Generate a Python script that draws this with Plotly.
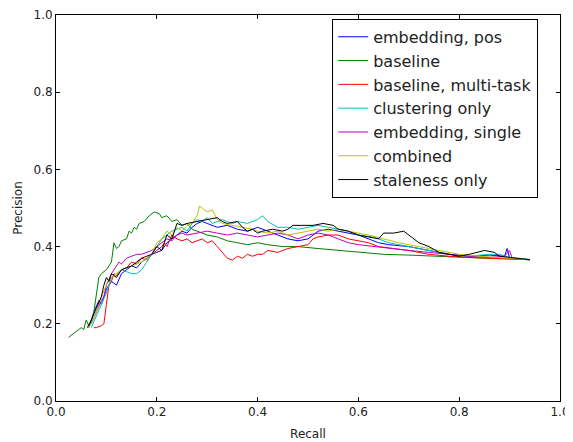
import plotly.graph_objects as go

names = ["embedding, pos", "baseline", "baseline, multi-task", "clustering only",
         "embedding, single", "combined", "staleness only"]
colors = ["#0000ff", "#008000", "#ff0000", "#00bfbf", "#bf00bf", "#bfbf00", "#000000"]

emb_pos_r = [0.065,0.075,0.085,0.09,0.10,0.11,0.12,0.13,0.14,0.15,0.16,0.17,0.18,0.19,0.20,0.21,0.22,0.23,0.24,0.25,0.26,0.27,0.28,0.29,0.30,0.31,0.32,0.34,0.36,0.38,0.40,0.42,0.44,0.46,0.48,0.50,0.52,0.54,0.56,0.58,0.60,0.62,0.64,0.66,0.70,0.74,0.78,0.82,0.86,0.89,0.895,0.90,0.94]
emb_pos_p = [0.19,0.23,0.26,0.25,0.29,0.31,0.30,0.33,0.34,0.35,0.345,0.36,0.37,0.38,0.385,0.39,0.41,0.42,0.43,0.44,0.435,0.45,0.46,0.465,0.46,0.455,0.45,0.455,0.445,0.44,0.45,0.44,0.43,0.42,0.415,0.42,0.44,0.445,0.44,0.435,0.43,0.42,0.41,0.405,0.40,0.39,0.38,0.375,0.378,0.375,0.395,0.37,0.366]

base_r = [0.025,0.035,0.045,0.05,0.055,0.06,0.065,0.07,0.075,0.08,0.085,0.09,0.10,0.105,0.11,0.115,0.12,0.125,0.13,0.14,0.145,0.15,0.155,0.16,0.165,0.175,0.185,0.195,0.205,0.21,0.22,0.23,0.24,0.25,0.26,0.27,0.28,0.29,0.30,0.32,0.34,0.36,0.38,0.40,0.42,0.45,0.48,0.52,0.56,0.60,0.65,0.70,0.75,0.80,0.85,0.90,0.94]
base_p = [0.165,0.175,0.185,0.19,0.185,0.21,0.195,0.205,0.23,0.28,0.32,0.33,0.34,0.35,0.36,0.41,0.395,0.40,0.415,0.42,0.44,0.435,0.45,0.445,0.46,0.465,0.48,0.49,0.485,0.475,0.48,0.465,0.47,0.455,0.46,0.445,0.44,0.435,0.43,0.425,0.415,0.41,0.405,0.41,0.405,0.40,0.40,0.395,0.39,0.385,0.38,0.378,0.375,0.372,0.37,0.368,0.366]

multi_r = [0.075,0.08,0.09,0.095,0.10,0.105,0.11,0.115,0.12,0.13,0.14,0.15,0.16,0.17,0.18,0.19,0.20,0.21,0.215,0.22,0.23,0.24,0.25,0.26,0.27,0.28,0.29,0.30,0.31,0.32,0.33,0.34,0.35,0.36,0.37,0.38,0.39,0.40,0.41,0.42,0.44,0.46,0.48,0.50,0.51,0.52,0.54,0.56,0.58,0.60,0.62,0.64,0.67,0.70,0.74,0.78,0.82,0.86,0.90,0.94]
multi_p = [0.19,0.19,0.195,0.20,0.25,0.30,0.31,0.33,0.325,0.34,0.345,0.36,0.355,0.37,0.365,0.38,0.39,0.40,0.41,0.40,0.43,0.42,0.415,0.42,0.41,0.415,0.42,0.41,0.415,0.40,0.385,0.37,0.365,0.375,0.37,0.38,0.375,0.38,0.38,0.39,0.385,0.395,0.40,0.405,0.42,0.425,0.43,0.43,0.42,0.415,0.41,0.40,0.395,0.39,0.38,0.375,0.372,0.37,0.368,0.366]

clust_r = [0.07,0.08,0.09,0.10,0.105,0.11,0.12,0.13,0.14,0.15,0.16,0.17,0.18,0.19,0.20,0.21,0.22,0.23,0.24,0.25,0.26,0.27,0.28,0.29,0.30,0.31,0.32,0.33,0.34,0.35,0.36,0.38,0.40,0.41,0.42,0.44,0.46,0.48,0.50,0.52,0.54,0.56,0.58,0.60,0.63,0.66,0.70,0.74,0.78,0.82,0.86,0.88,0.90,0.94]
clust_p = [0.19,0.22,0.25,0.28,0.30,0.32,0.33,0.34,0.335,0.33,0.33,0.34,0.36,0.38,0.40,0.42,0.43,0.44,0.445,0.45,0.44,0.46,0.47,0.465,0.475,0.46,0.465,0.47,0.465,0.46,0.465,0.46,0.47,0.48,0.465,0.45,0.45,0.445,0.45,0.455,0.45,0.445,0.44,0.43,0.425,0.41,0.40,0.39,0.38,0.375,0.38,0.38,0.372,0.367]

single_r = [0.07,0.08,0.09,0.095,0.10,0.11,0.12,0.125,0.13,0.14,0.15,0.16,0.17,0.18,0.19,0.20,0.21,0.22,0.23,0.24,0.25,0.26,0.28,0.30,0.32,0.34,0.36,0.38,0.40,0.42,0.44,0.46,0.48,0.50,0.52,0.54,0.56,0.58,0.60,0.63,0.66,0.70,0.74,0.78,0.82,0.86,0.89,0.90,0.905,0.94]
single_p = [0.20,0.23,0.26,0.27,0.30,0.33,0.35,0.36,0.355,0.37,0.375,0.38,0.38,0.385,0.39,0.40,0.41,0.42,0.415,0.43,0.435,0.43,0.435,0.44,0.435,0.43,0.435,0.43,0.425,0.43,0.435,0.43,0.42,0.43,0.435,0.43,0.42,0.41,0.405,0.40,0.395,0.39,0.385,0.38,0.375,0.372,0.375,0.39,0.37,0.366]

comb_r = [0.065,0.07,0.08,0.09,0.10,0.11,0.12,0.13,0.14,0.15,0.16,0.17,0.18,0.19,0.20,0.21,0.22,0.23,0.24,0.25,0.26,0.27,0.28,0.285,0.29,0.30,0.31,0.32,0.33,0.35,0.37,0.39,0.40,0.42,0.44,0.46,0.48,0.50,0.52,0.54,0.56,0.58,0.60,0.62,0.65,0.68,0.72,0.76,0.80,0.84,0.88,0.91,0.94]
comb_p = [0.19,0.20,0.23,0.27,0.30,0.32,0.33,0.34,0.345,0.35,0.355,0.36,0.37,0.38,0.41,0.42,0.44,0.43,0.45,0.44,0.455,0.46,0.48,0.505,0.50,0.49,0.495,0.47,0.46,0.455,0.45,0.445,0.44,0.435,0.44,0.43,0.435,0.44,0.445,0.44,0.445,0.44,0.435,0.43,0.42,0.41,0.40,0.39,0.38,0.375,0.372,0.37,0.366]

stale_r = [0.062,0.07,0.08,0.09,0.095,0.10,0.105,0.11,0.12,0.13,0.14,0.15,0.16,0.17,0.18,0.19,0.20,0.21,0.215,0.22,0.23,0.24,0.25,0.26,0.28,0.30,0.32,0.33,0.34,0.36,0.37,0.38,0.39,0.40,0.41,0.43,0.45,0.46,0.47,0.49,0.51,0.53,0.55,0.56,0.58,0.60,0.62,0.64,0.65,0.67,0.69,0.70,0.72,0.74,0.76,0.78,0.80,0.82,0.85,0.87,0.88,0.90,0.94]
stale_p = [0.19,0.21,0.24,0.27,0.30,0.32,0.31,0.33,0.32,0.34,0.345,0.35,0.36,0.37,0.375,0.38,0.40,0.39,0.41,0.43,0.42,0.46,0.455,0.46,0.465,0.47,0.475,0.465,0.46,0.465,0.45,0.44,0.445,0.435,0.44,0.445,0.44,0.445,0.455,0.455,0.455,0.46,0.455,0.445,0.44,0.43,0.425,0.42,0.435,0.435,0.44,0.43,0.41,0.40,0.385,0.38,0.375,0.38,0.39,0.385,0.375,0.372,0.366]

recalls = [emb_pos_r, base_r, multi_r, clust_r, single_r, comb_r, stale_r]
precisions = [emb_pos_p, base_p, multi_p, clust_p, single_p, comb_p, stale_p]

tick_vals = [0.0, 0.2, 0.4, 0.6, 0.8, 1.0]
tick_text = ["0.0", "0.2", "0.4", "0.6", "0.8", "1.0"]

fig = go.Figure()
for i, (n, c) in enumerate(zip(names, colors)):
    fig.add_trace(go.Scatter(x=recalls[i], y=precisions[i], mode="lines", name=n,
                             legendgroup=f"g{i}",
                             line=dict(color=c, width=1)))

axis_common = dict(range=[0, 1], tickvals=tick_vals, ticktext=tick_text,
                   ticks="inside", ticklen=4, tickcolor="black", tickwidth=1,
                   showline=True, linecolor="black", linewidth=1, mirror="ticks",
                   showgrid=False, zeroline=False, automargin=False,
                   tickfont=dict(family="DejaVu Sans", size=12, color="#222"))

# page body has an 8px margin, so the figure is 8px smaller and shifted
fig.update_layout(
    width=565, height=434,
    margin=dict(l=48, r=13, t=7, b=41),
    paper_bgcolor="white", plot_bgcolor="white",
    font=dict(family="DejaVu Sans", size=12, color="#222"),
    xaxis=dict(**axis_common, title=dict(text="Recall", standoff=11, font=dict(size=12))),
    yaxis=dict(**axis_common, title=dict(text="Precision", standoff=8, font=dict(size=12))),
    legend=dict(x=0.548, y=0.99, xanchor="left", yanchor="top",
                bgcolor="white", bordercolor="black", borderwidth=1,
                font=dict(family="DejaVu Sans", size=16, color="#222"),
                tracegroupgap=0),
    showlegend=True,
)

fig.write_html("out.html")
